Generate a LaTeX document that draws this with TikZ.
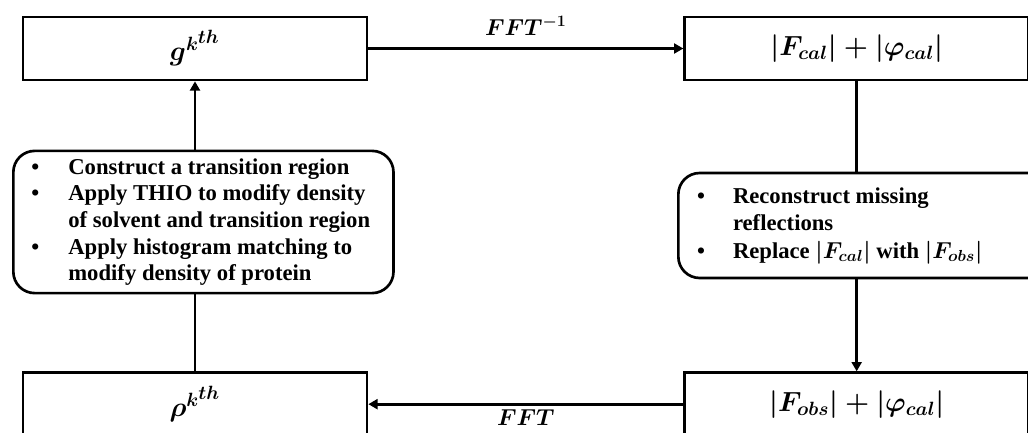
\documentclass[tikz,border=0pt]{standalone}
\usepackage{fontspec}
\setmainfont{Liberation Serif}
\usepackage{amsmath,amssymb}
\usetikzlibrary{positioning, arrows.meta}
\tikzstyle{stage} = [rectangle, minimum width=258pt, minimum height=47.25pt, text centered, draw=black, line width=2pt, font=\fontsize{21}{24}\selectfont\boldmath]
\tikzstyle{task} = [rectangle, rounded corners=16pt, draw=black, line width=2pt, align=left, font=\fontsize{17}{20}\selectfont\bfseries\boldmath]
\tikzstyle{arrow} = [line width=2pt, -{Triangle[length=7pt, width=7.5pt]}]
\tikzstyle{link} = [line width=2pt]
\tikzstyle{fftlabel} = [inner sep=0pt, font=\fontsize{18}{20}\selectfont\boldmath]

\begin{document}
\begin{tikzpicture}[x=0.75pt, y=-0.75pt]
        \useasboundingbox (0,0) rectangle (1028,432);
        \clip (0,0) rectangle (1028,432);
        % Nodes
        \node (gk) [stage] at (195,48.5) {$g^{k^{\scriptstyle th}}$};
        \node (fcal) [stage, right=236.25pt of gk] {$|F_{cal}|+|\varphi_{cal}|$};
        \node (rhok) [stage, below=217.5pt of gk] {$\rho^{k^{\scriptstyle th}}$};
        \node (fobs) [stage, below=217.5pt of fcal] {$|F_{obs}|+|\varphi_{cal}|$};
        \node (modify) [task, minimum width=282.75pt, minimum height=106.5pt, inner xsep=13.5pt, anchor=west] at (12,222) {%
            \begin{tabular}{@{}p{27.75pt}@{}l@{}}
            \textbullet & Construct a transition region\\
            \textbullet & Apply THIO to modify density\\
                        & of solvent and transition region\\
            \textbullet & Apply histogram matching to\\
                        & modify density of protein
            \end{tabular}\hspace{4pt}};
        \node (replace) [task, minimum width=261pt, minimum height=78.75pt, inner xsep=14pt, anchor=west] at (677,225.5) {%
            \begin{tabular}{@{}p{27pt}@{}l@{}}
            \textbullet & Reconstruct missing\\
                        & reflections\\[1pt]
            \textbullet & Replace $|F_{cal}|$ with $|F_{obs}|$
            \end{tabular}\hspace{50pt}};

        % Arrows
        \draw [arrow] (gk) -- node [fftlabel, above=9pt] {$FFT^{-1}$} (fcal);
        \draw [link] (fcal.south) -- (fcal.south |- replace.north);
        \draw [arrow] (fcal.south |- replace.south) -- (fobs.north);
        \draw [arrow] (fobs) -- node [fftlabel, below=3pt] {$FFT$} (rhok);
        \draw [link] (rhok.north) -- (rhok.north |- modify.south);
        \draw [arrow] (gk.south |- modify.north) -- (gk.south);
    \end{tikzpicture}
\end{document}
